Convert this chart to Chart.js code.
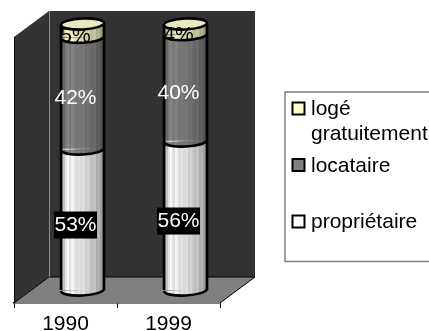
<!DOCTYPE html>
<html lang="fr">
<head>
<meta charset="utf-8">
<title>Statut d'occupation</title>
<script src="https://cdn.jsdelivr.net/npm/chart.js@4"></script>
<style>
  html, body { margin: 0; padding: 0; background: #fff; }
  canvas { display: block; }
</style>
</head>
<body>
<canvas id="myChart" width="429" height="331"></canvas>
<script>
// Données
const years = ['1990', '1999'];
const proprietaire = [53, 56];
const locataire = [42, 40];
const logeGratuit = [5, 4];
const legendLabels = [['logé', 'gratuitement'], ['locataire'], ['propriétaire']];

const FONT = '"Liberation Sans", Arial, sans-serif';
const depthX = 17, depthY = 13;   // décalage des cylindres au milieu du socle
const wallX = 35, wallY = 26;     // profondeur totale du socle

// Bandes verticales qui donnent le relief des cylindres
const shade = [0.62, 0.76, 0.9, 0.98, 0.88, 0.96, 0.9, 0.86, 0.89, 0.85, 0.87, 0.8, 0.83, 0.78, 0.74, 0.77, 0.68, 0.7, 0.62, 0.54];

function cylinderFill(chart, index, rgb) {
    const x = chart.scales.x.getPixelForValue(index);
    // options résolues avant la mise en page : pas encore de position
    if (!Number.isFinite(x)) return `rgb(${rgb.join(',')})`;
    const g = chart.ctx.createLinearGradient(x - 22, 0, x + 22, 0);
    shade.forEach((s, i) => {
        const col = `rgb(${rgb.map(c => Math.round(c * s)).join(',')})`;
        g.addColorStop(i / shade.length, col);
        g.addColorStop((i + 1) / shade.length, col);
    });
    return g;
}

function makeSeries(label, data, rgb, textColor, boxed) {
    return {
        label, data, textColor, boxed,
        backgroundColor: ctx => cylinderFill(ctx.chart, ctx.dataIndex, rgb),
        borderWidth: 0,
        barThickness: 43,
        clip: false
    };
}

const rx = 21.5, ry = 5.5, tilt = -0.05;

const socle = {
    id: 'socle',
    beforeDatasetsDraw(chart) {
        const { ctx, scales: { x, y } } = chart;
        const l = x.left, r = x.right, t = y.top, b = y.bottom;
        ctx.save();
        // mur du fond et mur de gauche
        ctx.fillStyle = '#333333';
        ctx.fillRect(l + wallX, t - wallY, r - l, b - t);
        ctx.beginPath();
        ctx.moveTo(l, t); ctx.lineTo(l + wallX, t - wallY);
        ctx.lineTo(l + wallX, b - wallY); ctx.lineTo(l, b);
        ctx.closePath();
        ctx.fill();
        // sol
        ctx.fillStyle = '#808080';
        ctx.beginPath();
        ctx.moveTo(l, b); ctx.lineTo(l + wallX, b - wallY);
        ctx.lineTo(r + wallX, b - wallY); ctx.lineTo(r, b);
        ctx.closePath();
        ctx.fill();
        ctx.strokeStyle = '#000';
        ctx.lineWidth = 1;
        ctx.beginPath();
        ctx.moveTo(l, b); ctx.lineTo(l + wallX, b - wallY);
        ctx.moveTo(r, b); ctx.lineTo(r + wallX, b - wallY);
        ctx.moveTo(l + wallX, b - wallY); ctx.lineTo(r + wallX, b - wallY);
        ctx.moveTo(l + 0.5, t); ctx.lineTo(l + 0.5, b);
        ctx.stroke();
        ctx.strokeStyle = '#8a8a8a';
        ctx.beginPath();
        ctx.moveTo(l + wallX + 0.5, t - wallY); ctx.lineTo(l + wallX + 0.5, b - wallY);
        ctx.stroke();
        ctx.restore();
        // les barres sont dessinées au milieu du socle
        ctx.save();
        ctx.translate(depthX, -depthY);
    },
    afterDatasetsDraw(chart) {
        const { ctx, data } = chart;
        ctx.lineWidth = 2.6;
        ctx.strokeStyle = '#000';
        data.datasets.forEach((ds, d) => {
            chart.getDatasetMeta(d).data.forEach(bar => {
                // arrondi du bas de chaque tronçon
                ctx.beginPath();
                ctx.ellipse(bar.x, bar.base, rx, ry, tilt, 0, Math.PI);
                ctx.fillStyle = bar.options.backgroundColor;
                ctx.fill();
                ctx.stroke();
                ctx.beginPath();
                ctx.moveTo(bar.x - rx, bar.y); ctx.lineTo(bar.x - rx, bar.base);
                ctx.moveTo(bar.x + rx, bar.y); ctx.lineTo(bar.x + rx, bar.base);
                ctx.stroke();
            });
        });
        // couvercle
        const last = data.datasets.length - 1;
        chart.getDatasetMeta(last).data.forEach(bar => {
            ctx.beginPath();
            ctx.ellipse(bar.x, bar.y, rx, ry, tilt, 0, Math.PI * 2);
            ctx.fillStyle = '#e9e9bf';
            ctx.fill();
            ctx.stroke();
        });
        ctx.restore();

        // pourcentages
        ctx.save();
        ctx.font = '21px ' + FONT;
        ctx.textAlign = 'center';
        ctx.textBaseline = 'middle';
        data.datasets.forEach((ds, d) => {
            chart.getDatasetMeta(d).data.forEach((bar, i) => {
                const cx = bar.x + 10;
                const cy = (bar.y + bar.base) / 2 - 7.5;
                if (ds.boxed) {
                    ctx.fillStyle = '#000';
                    ctx.fillRect(cx - 21.5, cy - 13.5, 43, 27);
                }
                ctx.fillStyle = ds.textColor;
                ctx.fillText(ds.data[i] + '%', cx, cy);
            });
        });
        ctx.restore();
    }
};

// Légende à droite, pas constant entre les entrées
const legendBox = {
    id: 'legendBox',
    afterDraw(chart) {
        const { ctx } = chart;
        const swatches = ['#ffffcc', '#808080', '#ffffff'];
        ctx.save();
        ctx.strokeStyle = '#808080';
        ctx.lineWidth = 1.5;
        ctx.strokeRect(285, 92, 160, 169.5);
        ctx.font = '21px ' + FONT;
        ctx.textAlign = 'left';
        ctx.textBaseline = 'alphabetic';
        legendLabels.forEach((lines, i) => {
            const base = 115 + i * 56.5;
            ctx.fillStyle = swatches[i];
            ctx.strokeStyle = '#000';
            ctx.lineWidth = 2;
            ctx.fillRect(292.5, base - 12.5, 12, 12);
            ctx.strokeRect(292.5, base - 12.5, 12, 12);
            ctx.fillStyle = '#000';
            lines.forEach((t, j) => ctx.fillText(t, 311, base + j * 25));
        });
        ctx.restore();
    }
};

new Chart(document.getElementById('myChart'), {
    type: 'bar',
    data: {
        labels: years,
        datasets: [
            makeSeries('propriétaire', proprietaire, [255, 255, 255], '#fff', true),
            makeSeries('locataire', locataire, [136, 136, 136], '#fff', false),
            makeSeries('logé gratuitement', logeGratuit, [255, 255, 204], '#000', false)
        ]
    },
    options: {
        responsive: false,
        animation: false,
        layout: { padding: { left: 14, right: 209, top: 37, bottom: 0 } },
        plugins: { legend: { display: false }, tooltip: { enabled: false } },
        scales: {
            x: {
                stacked: true,
                afterFit(axis) { axis.height = 28; },
                border: { color: '#000', width: 1.5 },
                grid: { drawOnChartArea: false, color: '#000', tickLength: 5 },
                ticks: { color: '#000', padding: 4, maxRotation: 0, font: { family: FONT, size: 21 } }
            },
            y: { stacked: true, display: false, min: 0, max: 100 }
        }
    },
    plugins: [socle, legendBox]
});
</script>
</body>
</html>
